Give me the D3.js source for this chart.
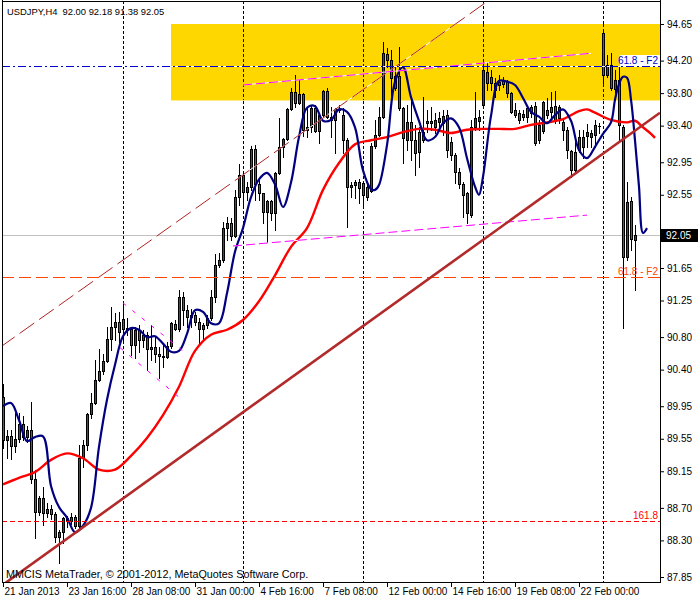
<!DOCTYPE html>
<html><head><meta charset="utf-8">
<script src="https://cdn.jsdelivr.net/npm/d3@7/dist/d3.min.js"></script>
<style>
body{margin:0;background:#fff}
svg{display:block}
text{font-family:"Liberation Sans",Arial,sans-serif;font-size:10px}
</style>
</head><body>
<svg id="chart" width="700" height="600"></svg>
<script>
// ---------------- DATA ----------------
const symbolTitle = "USDJPY,H4  92.00 92.18 91.38 92.05";
const footerText = "MMCIS MetaTrader, \u00A9 2001-2012, MetaQuotes Software Corp.";

const opens = [90.06,89.53,89.58,89.46,89.55,89.73,89.57,89.66,89.05,88.65,88.82,88.64,88.69,88.62,88.34,88.40,88.58,88.54,88.59,88.48,
89.31,89.47,89.85,89.99,90.27,90.38,90.51,90.78,90.92,90.99,91.02,90.91,90.90,90.70,90.89,90.76,90.83,90.65,90.68,90.59,
90.57,90.56,90.69,90.96,90.90,91.29,91.13,91.05,91.07,90.99,90.90,90.95,91.03,91.29,91.69,91.75,92.14,92.20,92.04,92.52,
92.79,92.58,92.65,93.11,92.68,92.57,92.34,92.47,92.33,92.82,93.14,93.24,93.60,93.81,93.68,93.79,93.35,93.38,93.62,93.33,
93.53,93.83,93.51,93.47,93.60,93.53,93.22,92.65,92.67,92.71,92.70,92.65,92.60,93.15,93.28,93.51,94.28,94.21,93.86,94.01,
93.62,93.22,93.44,93.22,93.32,93.22,93.43,93.43,93.38,93.44,93.43,93.53,93.20,93.04,92.83,92.68,92.57,92.30,93.38,93.46,
93.65,94.06,94.00,93.84,93.90,93.96,93.94,93.80,93.59,93.56,93.51,93.51,93.56,93.64,93.22,93.33,93.59,93.57,93.64,93.49,
93.44,93.35,93.09,93.08,93.10,93.14,93.27,93.26,93.28,93.40,94.54,94.02,94.15,93.85,93.96,93.38,91.78,92.47,92.00];
const highs = [90.22,89.66,89.66,89.87,89.87,89.83,89.71,90.00,89.17,88.85,88.96,88.76,88.74,88.65,88.43,88.59,88.60,88.64,88.61,89.47,
89.53,89.87,90.11,90.52,90.65,90.59,90.92,91.17,91.10,91.11,91.22,91.03,90.92,90.92,90.95,90.89,90.86,90.95,90.80,90.68,
90.73,90.74,90.99,91.01,91.38,91.35,91.20,91.15,91.11,91.03,90.97,91.07,91.38,91.82,91.83,92.22,92.28,92.26,92.61,92.93,
92.82,92.71,93.15,93.16,92.73,92.57,92.49,92.49,92.83,93.49,93.25,93.62,93.86,94.02,93.96,93.80,93.63,93.65,93.65,93.54,
93.84,93.86,93.63,93.62,93.65,93.62,93.25,92.71,92.73,92.74,92.72,92.67,93.19,93.47,93.63,94.43,94.36,94.33,94.12,94.37,
93.63,93.65,93.72,93.41,93.38,93.75,93.59,93.63,93.56,93.57,93.59,93.59,93.26,93.06,92.88,92.71,92.58,93.47,93.81,93.59,
94.18,94.18,94.08,93.99,94.02,94.00,93.96,93.81,93.68,93.59,93.59,93.64,93.65,93.69,93.47,93.70,93.74,93.81,93.83,93.65,
93.47,93.38,93.10,93.26,93.35,93.35,93.42,93.35,93.47,93.43,94.55,94.27,94.29,94.08,94.12,93.41,92.71,92.52,92.18];
const lows = [89.44,89.31,89.30,89.39,89.51,89.53,89.51,89.01,88.33,88.61,88.49,88.59,88.56,88.28,88.02,88.27,88.46,88.50,88.45,88.45,
89.20,89.41,89.80,89.98,90.26,90.35,90.49,90.64,90.76,90.74,90.73,90.83,90.58,90.54,90.62,90.68,90.40,90.52,90.49,90.30,
90.43,90.54,90.67,90.89,90.87,90.95,90.92,90.92,90.95,90.70,90.76,90.91,91.01,91.23,91.66,91.72,91.99,91.99,92.03,92.42,
92.40,92.49,92.61,92.49,92.49,92.20,91.97,92.24,92.12,92.81,93.01,93.22,93.59,93.63,93.67,93.27,93.26,93.32,93.32,93.19,
93.51,93.49,93.26,93.06,93.57,93.06,92.15,92.52,92.51,92.45,92.42,92.49,92.58,93.13,93.27,93.49,94.12,93.68,93.84,93.59,
92.94,93.10,92.98,92.79,92.89,93.20,93.32,93.35,93.31,93.38,93.28,93.01,92.98,92.70,92.63,92.28,92.20,92.28,93.35,93.35,
93.63,93.84,93.84,93.75,93.84,93.87,93.75,93.56,93.51,93.43,93.47,93.44,93.51,93.16,93.19,93.31,93.49,93.51,93.43,93.43,
93.22,93.00,92.77,92.82,93.08,93.00,93.14,93.14,93.14,93.31,93.92,94.00,93.84,93.72,93.22,90.91,91.75,91.87,91.38];
const closes = [89.53,89.58,89.46,89.55,89.73,89.57,89.66,89.05,88.65,88.82,88.64,88.69,88.62,88.34,88.40,88.58,88.54,88.59,88.48,89.31,
89.47,89.85,89.99,90.27,90.38,90.51,90.78,90.92,90.99,90.86,90.90,90.89,90.70,90.89,90.76,90.83,90.65,90.68,90.59,90.57,
90.56,90.69,90.97,90.90,91.29,91.13,91.05,91.07,90.99,90.90,90.95,91.03,91.29,91.69,91.75,92.14,92.20,92.04,92.52,92.79,
92.58,92.65,93.11,92.68,92.57,92.34,92.47,92.33,92.82,93.14,93.24,93.60,93.81,93.68,93.79,93.35,93.38,93.62,93.33,93.53,
93.83,93.51,93.47,93.60,93.59,93.22,92.65,92.67,92.71,92.63,92.55,92.52,93.15,93.28,93.51,94.29,94.21,93.99,94.01,93.62,
93.25,93.44,93.22,93.06,93.08,93.32,93.46,93.46,93.47,93.49,93.52,93.10,93.04,92.83,92.68,92.55,92.33,93.38,93.49,93.51,
94.08,93.92,93.92,93.92,93.94,93.91,93.80,93.57,93.53,93.47,93.54,93.62,93.63,93.19,93.41,93.69,93.53,93.63,93.46,93.63,
93.35,93.10,92.85,92.85,93.26,93.26,93.32,93.31,93.41,93.39,94.02,94.15,93.86,93.96,93.41,91.78,92.46,92.01,92.05];

// fast (blue) line, read at bar indices
const blueBars = [0,2,4,6,8,10,12,14,16,18,20,22,24,26,28,30,32,34,36,38,40,42,44,46,48,50,52,54,56,58,60,62,64,66,68,70,72,74,76,78,80,82,84,86,88,90,92,93,94,96,98,100,102,104,106,108,110,112,114,116,118,119,120,122,124,126,128,130,132,134,136,138,140,142,144,146,148,150,152,153,154,155,156,157,158,159,160,161];
const blueVals = [89.95,89.99,89.78,89.52,89.57,89.58,88.97,88.71,88.58,88.40,88.48,88.70,89.45,90.03,90.46,90.81,90.91,90.89,90.80,90.81,90.72,90.62,90.63,90.84,91.13,91.11,90.97,90.97,91.34,91.85,92.14,92.52,92.74,92.82,92.68,92.40,92.70,93.26,93.62,93.64,93.46,93.47,93.60,93.57,93.38,92.85,92.62,92.61,92.67,93.16,93.94,94.12,93.75,93.46,93.22,93.26,93.43,93.49,93.38,93.00,92.65,92.55,92.77,93.52,93.95,93.94,93.90,93.74,93.57,93.51,93.43,93.53,93.60,93.46,93.10,93.00,93.14,93.30,93.44,93.72,93.91,94.00,93.99,93.72,93.22,92.65,92.08,92.14];

// slow (red) line
const redBars = [0,4,8,12,16,20,24,28,32,36,40,44,48,52,56,60,64,68,72,76,80,84,88,92,96,100,104,108,112,116,120,124,128,132,136,140,144,146,148,152,156,158,160,162,163];
const redVals = [88.99,89.07,89.14,89.29,89.37,89.31,89.17,89.17,89.34,89.56,89.84,90.19,90.63,90.83,90.89,91.01,91.24,91.56,91.91,92.14,92.61,92.94,93.17,93.22,93.26,93.32,93.36,93.35,93.31,93.35,93.36,93.36,93.36,93.41,93.44,93.48,93.58,93.60,93.56,93.47,93.44,93.46,93.38,93.30,93.25];

// axis labels (92.10 sits under the bid marker in the original, so it is not printed)
const priceTicks = [94.65,94.20,93.80,93.40,92.95,92.55,91.65,91.25,90.80,90.40,89.95,89.55,89.15,88.70,88.30,87.85];
const timeLabels = ["21 Jan 2013","23 Jan 16:00","28 Jan 08:00","31 Jan 00:00","4 Feb 16:00","7 Feb 08:00","12 Feb 00:00","14 Feb 16:00","19 Feb 08:00","22 Feb 00:00"];
const timeBars = [0,16,32,48,64,80,96,112,128,144];
const weekStartBars = [30,60,90,120,150];

// objects
const zoneBars = [42, 170];
const zonePrices = [94.65, 93.71];
const supportLine = {bars:[14,149], prices:[88.25,93.02]};
const channelLine = {bars:[0,120], prices:[90.70,94.89]};
const magentaUpper = {bars:[60,147], prices:[93.90,94.29]};
const magentaLower = {bars:[57.5,146], prices:[91.92,92.30]};
const flagUpper = {bars:[30,46], prices:[91.22,90.59]};
const flagLower = {bars:[29.25,44.75], prices:[90.67,90.03]};
const fiboLevels = [
  {price:94.13, label:"61.8 - F2", color:"#0000c8"},
  {price:91.54, label:"61.8 - F2", color:"#ff4500"},
  {price:88.54, label:"161.8", color:"#ff0000"}
];
const bidPrice = 92.05;

// ---------------- DRAW ----------------
const svg = d3.select("#chart");
const PL = 2, PR = 660, PT = 1, PB = 582;
const x = d3.scaleLinear().domain([-0.75, 164.25]).range([0, 660]);
const y = d3.scaleLinear().domain([87.85, 94.65]).range([577, 24]);

svg.append("rect").attr("width",700).attr("height",600).attr("fill","#fff");
svg.append("defs").append("clipPath").attr("id","clip")
  .append("rect").attr("x",PL+1).attr("y",PT+1).attr("width",PR-PL-1).attr("height",PB-PT-1);
const plot = svg.append("g").attr("clip-path","url(#clip)");

// gold zone
plot.append("rect")
  .attr("x", x(zoneBars[0])).attr("y", y(zonePrices[0]))
  .attr("width", x(zoneBars[1]) - x(zoneBars[0]))
  .attr("height", y(zonePrices[1]) - y(zonePrices[0]))
  .attr("fill","#ffd700");

// weekly grid
weekStartBars.forEach(b=>{
  const gx = Math.round(x(b))+0.5;
  plot.append("line").attr("x1",gx).attr("x2",gx).attr("y1",PT).attr("y2",PB)
    .attr("stroke","#000").attr("stroke-dasharray","3,2").attr("shape-rendering","crispEdges");
  if (b >= zoneBars[0]) {
    plot.append("line").attr("x1",gx).attr("x2",gx)
      .attr("y1",y(zonePrices[0])).attr("y2",y(zonePrices[1]))
      .attr("stroke","#ffd700").attr("shape-rendering","crispEdges");
    plot.append("line").attr("x1",gx).attr("x2",gx)
      .attr("y1",y(zonePrices[0])).attr("y2",y(zonePrices[1]))
      .attr("stroke","#0000a0").attr("stroke-dasharray","3,2").attr("shape-rendering","crispEdges");
  }
});

// bid line
plot.append("line").attr("x1",PL).attr("x2",PR)
  .attr("y1",Math.round(y(bidPrice))+0.5).attr("y2",Math.round(y(bidPrice))+0.5)
  .attr("stroke","#c0c0c0").attr("shape-rendering","crispEdges");

// candles
const green = "#008000", red = "#e02a14";
const idx = d3.range(opens.length);
const top_ = i=>Math.round(y(Math.max(opens[i],closes[i])));
const bot_ = i=>Math.round(y(Math.min(opens[i],closes[i])));
const cg = plot.append("g").attr("shape-rendering","crispEdges");
cg.selectAll("line.w").data(idx).join("line").attr("class","w")
  .attr("x1",i=>Math.round(x(i))+0.5).attr("x2",i=>Math.round(x(i))+0.5)
  .attr("y1",i=>Math.round(y(highs[i]))).attr("y2",i=>Math.round(y(lows[i]))+1)
  .attr("stroke","#000");
cg.selectAll("rect.b").data(idx).join("rect").attr("class","b")
  .attr("x",i=>Math.round(x(i))-1).attr("y",top_)
  .attr("width",3).attr("height",i=>Math.max(1, bot_(i)-top_(i)+1))
  .attr("fill","#000");
cg.selectAll("rect.f").data(idx.filter(i=>bot_(i)-top_(i) >= 2)).join("rect").attr("class","f")
  .attr("x",i=>Math.round(x(i))).attr("y",i=>top_(i)+1)
  .attr("width",1).attr("height",i=>bot_(i)-top_(i)-1)
  .attr("fill",i=>closes[i]>=opens[i]?green:red);

// moving lines
const lineGen = d3.line().x(d=>x(d[0])).y(d=>y(d[1])).curve(d3.curveCatmullRom.alpha(0.5));
plot.append("path").datum(redBars.map((b,i)=>[b,redVals[i]]))
  .attr("d",lineGen).attr("fill","none").attr("stroke","#ff0000").attr("stroke-width",2.4);
plot.append("path").datum(blueBars.map((b,i)=>[b,blueVals[i]]))
  .attr("d",lineGen).attr("fill","none").attr("stroke","#000080").attr("stroke-width",2.2);

// straight object lines, extended along their own slope
function seg(obj, b0, b1){
  const s = (obj.prices[1]-obj.prices[0])/(obj.bars[1]-obj.bars[0]);
  return [[b0, obj.prices[0]+s*(b0-obj.bars[0])],[b1, obj.prices[0]+s*(b1-obj.bars[0])]];
}
const straight = d3.line().x(d=>x(d[0])).y(d=>y(d[1]));

// channel (dashed thin)
const ch = seg(channelLine, -0.75, 122);
plot.append("path").attr("d",straight(ch)).attr("stroke","#fff").attr("fill","none");
plot.append("path").attr("d",straight(ch)).attr("stroke","#b22222")
  .attr("stroke-dasharray","18,6").attr("fill","none");

// magenta lines
[magentaUpper, magentaLower].forEach(m=>{
  const p = seg(m, m.bars[0], m.bars[1]);
  plot.append("path").attr("d",straight(p)).attr("stroke","#fff").attr("fill","none");
  plot.append("path").attr("d",straight(p)).attr("stroke","#ff00ff").attr("stroke-dasharray","9,4").attr("fill","none");
});
[flagUpper, flagLower].forEach(m=>{
  const p = seg(m, m.bars[0], m.bars[1]);
  plot.append("path").attr("d",straight(p)).attr("stroke","#ff00ff").attr("stroke-dasharray","4,8").attr("fill","none");
});

// horizontal fibo levels
const dashes = ["8,3,2,3","12,5","5,3"];
fiboLevels.forEach((f,k)=>{
  const yy = Math.round(y(f.price))+0.5;
  if (k===0) plot.append("line").attr("x1",PL).attr("x2",PR).attr("y1",yy).attr("y2",yy)
    .attr("stroke","#fff").attr("shape-rendering","crispEdges");
  plot.append("line").attr("x1",PL).attr("x2",PR).attr("y1",yy).attr("y2",yy)
    .attr("stroke",f.color).attr("stroke-dasharray",dashes[k]).attr("shape-rendering","crispEdges");
});

// support trendline
const sp = seg(supportLine, -0.75, 164.25);
plot.append("path").attr("d",straight(sp)).attr("stroke","#b22a2a").attr("stroke-width",2.6).attr("fill","none");

// fibo labels
fiboLevels.forEach((f,k)=>{
  const yy = Math.round(y(f.price));
  if (k===0) svg.append("rect").attr("x",620).attr("y",yy-11).attr("width",40).attr("height",11).attr("fill","#fff");
  svg.append("text").attr("x",658).attr("y",yy-2).attr("text-anchor","end")
    .attr("fill",f.color).text(f.label);
});

// frame
svg.append("line").attr("x1",PL+0.5).attr("x2",PL+0.5).attr("y1",0).attr("y2",PB).attr("stroke","#000");
svg.append("line").attr("x1",PL).attr("x2",PR).attr("y1",PT+0.5).attr("y2",PT+0.5).attr("stroke","#000");
svg.append("line").attr("x1",PR+0.5).attr("x2",PR+0.5).attr("y1",0).attr("y2",PB+1).attr("stroke","#000");
svg.append("line").attr("x1",PL).attr("x2",PR+1).attr("y1",PB+0.5).attr("y2",PB+0.5).attr("stroke","#000");

// right axis
const ra = svg.append("g").attr("transform",`translate(${PR+1},0)`)
  .call(d3.axisRight(y).tickValues(priceTicks).tickSize(3).tickPadding(3).tickFormat(d3.format(".2f")));
ra.select(".domain").remove();
ra.selectAll("text").attr("font-family","Liberation Sans, Arial, sans-serif").attr("font-size",10).attr("fill","#000");
ra.selectAll("line").attr("stroke","#000");

// bottom axis
const ba = svg.append("g").attr("transform",`translate(0,${PB+1})`)
  .call(d3.axisBottom(x).tickValues(timeBars).tickSize(4).tickFormat((d,i)=>timeLabels[i]));
ba.select(".domain").remove();
ba.selectAll("text").attr("text-anchor","start").attr("x",1).attr("y",12).attr("dy",0)
  .attr("font-family","Liberation Sans, Arial, sans-serif").attr("font-size",9.2).attr("fill","#000");
ba.selectAll("line").attr("stroke","#000");

// bid marker
{
  const yy = Math.round(y(bidPrice));
  svg.append("rect").attr("x",PR+1).attr("y",yy-6).attr("width",37).attr("height",13).attr("fill","#000");
  svg.append("text").attr("x",PR+6).attr("y",yy+4).attr("fill","#fff").text(d3.format(".2f")(bidPrice));
}

// title & footer
svg.append("text").attr("x",7).attr("y",15).style("white-space","pre").style("font-size","9.4px")
  .attr("fill","#000").text(symbolTitle);
svg.append("text").attr("x",6).attr("y",578).style("font-size","10.8px").attr("fill","#000").text(footerText);
</script>
</body></html>
